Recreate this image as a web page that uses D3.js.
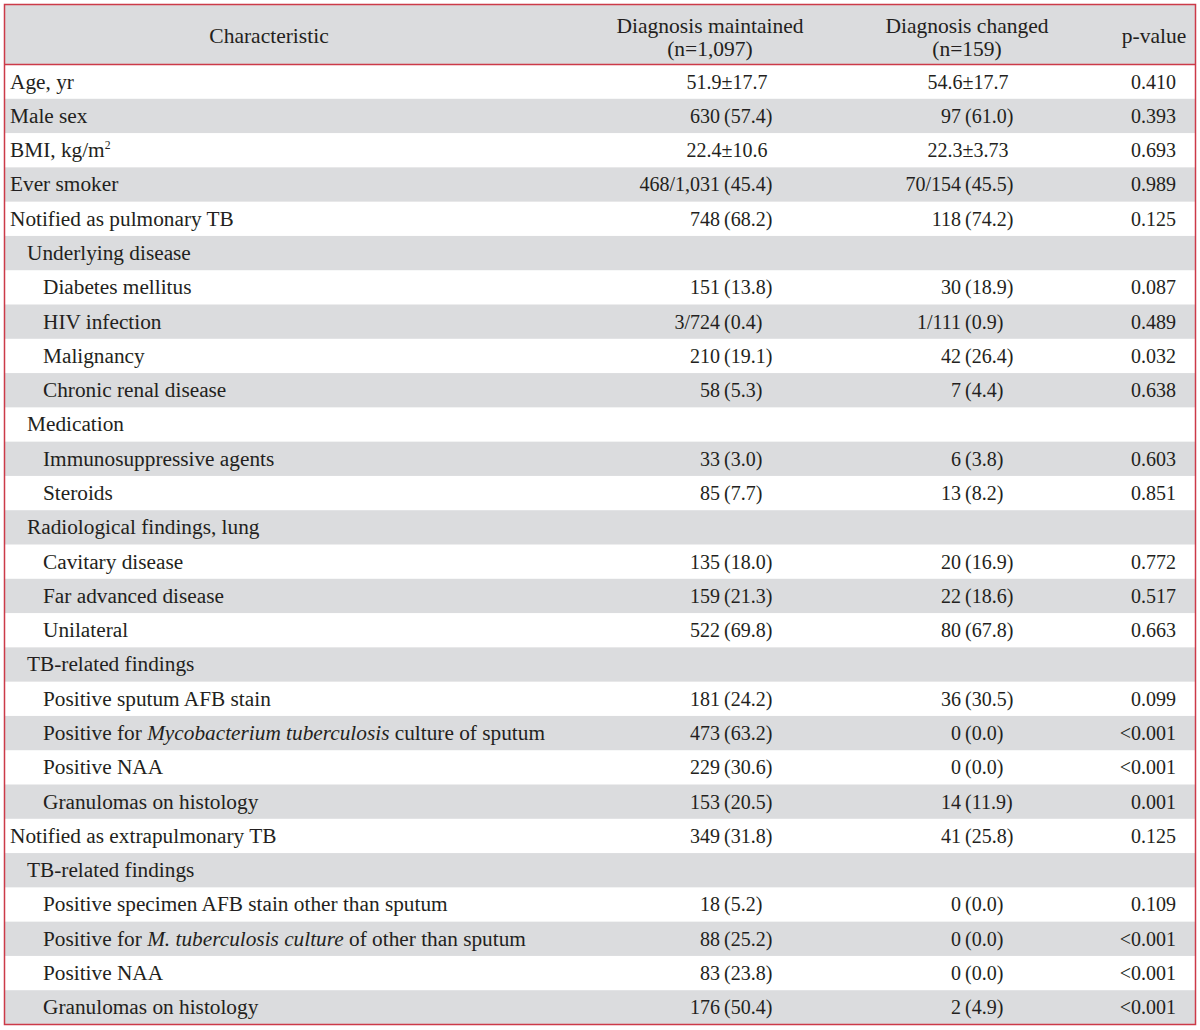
<!DOCTYPE html>
<html>
<head>
<meta charset="utf-8">
<script src="https://cdn.jsdelivr.net/npm/d3@7"></script>
<style>
  html, body { margin: 0; padding: 0; background: #ffffff; }
  svg { display: block; }
</style>
</head>
<body>
<svg id="chart" width="1200" height="1030"></svg>
<script>
// ---------------- data ----------------
const headers = ["Characteristic", "Diagnosis maintained|(n=1,097)", "Diagnosis changed|(n=159)", "p-value"];

// *text* marks italic parts, ^x marks superscript
const characteristics = [
  "Age, yr",
  "Male sex",
  "BMI, kg/m^2",
  "Ever smoker",
  "Notified as pulmonary TB",
  "Underlying disease",
  "Diabetes mellitus",
  "HIV infection",
  "Malignancy",
  "Chronic renal disease",
  "Medication",
  "Immunosuppressive agents",
  "Steroids",
  "Radiological findings, lung",
  "Cavitary disease",
  "Far advanced disease",
  "Unilateral",
  "TB-related findings",
  "Positive sputum AFB stain",
  "Positive for *Mycobacterium tuberculosis* culture of sputum",
  "Positive NAA",
  "Granulomas on histology",
  "Notified as extrapulmonary TB",
  "TB-related findings",
  "Positive specimen AFB stain other than sputum",
  "Positive for *M. tuberculosis culture* of other than sputum",
  "Positive NAA",
  "Granulomas on histology"
];

const levels = [0,0,0,0,0,1,2,2,2,2,1,2,2,1,2,2,2,1,2,2,2,2,0,1,2,2,2,2];

const maintained = [
  "51.9±17.7", "630 (57.4)", "22.4±10.6", "468/1,031 (45.4)", "748 (68.2)",
  "", "151 (13.8)", "3/724 (0.4)", "210 (19.1)", "58 (5.3)",
  "", "33 (3.0)", "85 (7.7)",
  "", "135 (18.0)", "159 (21.3)", "522 (69.8)",
  "", "181 (24.2)", "473 (63.2)", "229 (30.6)", "153 (20.5)",
  "349 (31.8)",
  "", "18 (5.2)", "88 (25.2)", "83 (23.8)", "176 (50.4)"
];

const changed = [
  "54.6±17.7", "97 (61.0)", "22.3±3.73", "70/154 (45.5)", "118 (74.2)",
  "", "30 (18.9)", "1/111 (0.9)", "42 (26.4)", "7 (4.4)",
  "", "6 (3.8)", "13 (8.2)",
  "", "20 (16.9)", "22 (18.6)", "80 (67.8)",
  "", "36 (30.5)", "0 (0.0)", "0 (0.0)", "14 (11.9)",
  "41 (25.8)",
  "", "0 (0.0)", "0 (0.0)", "0 (0.0)", "2 (4.9)"
];

const pValues = [
  "0.410", "0.393", "0.693", "0.989", "0.125",
  "", "0.087", "0.489", "0.032", "0.638",
  "", "0.603", "0.851",
  "", "0.772", "0.517", "0.663",
  "", "0.099", "<0.001", "<0.001", "0.001",
  "0.125",
  "", "0.109", "<0.001", "<0.001", "<0.001"
];

// ---------------- layout ----------------
const FONT = "'Liberation Serif', 'Times New Roman', serif";
const FS_NUM = 20;
const FS_LAB = 21.3;
const FS_HEAD = 21.5;
const frame = {x0: 4.5, y0: 4.5, x1: 1195.5, y1: 1024.5};
const headerBottom = 64.5;
const RED = "#cc3a48";
const GRAY = "#dbdcde";
const TEXT = "#231f20";

const svg = d3.select("#chart");

const rows = d3.range(characteristics.length);
const y = d3.scaleBand().domain(rows).range([headerBottom, frame.y1]).paddingInner(0).paddingOuter(0);
const indent = d3.scaleOrdinal().domain([0,1,2]).range([10, 27, 43]);

// column anchors
const colMaintParen = 724;   // x of "(" in maintained column
const colChangedParen = 965; // x of "(" in changed column
const colP = 1176;           // right edge of p-values
const headerCenters = [269, 710, 967, 1154];

// header background
svg.append("rect")
  .attr("x", frame.x0).attr("y", frame.y0)
  .attr("width", frame.x1 - frame.x0).attr("height", headerBottom - frame.y0)
  .attr("fill", GRAY);

// striped rows
svg.append("g").selectAll("rect")
  .data(rows.filter(i => i % 2 === 1))
  .join("rect")
  .attr("x", frame.x0).attr("y", d => y(d))
  .attr("width", frame.x1 - frame.x0).attr("height", y.bandwidth())
  .attr("fill", GRAY);

const textG = svg.append("g")
  .attr("font-family", FONT).attr("font-size", FS_NUM).attr("fill", TEXT);

// header text
headers.forEach((h, i) => {
  const lines = h.split("|");
  const t = textG.append("text").attr("text-anchor", "middle").attr("font-size", FS_HEAD);
  if (lines.length === 1) {
    t.attr("x", headerCenters[i]).attr("y", 43).text(lines[0]);
  } else {
    t.append("tspan").attr("x", headerCenters[i]).attr("y", 33).text(lines[0]);
    t.append("tspan").attr("x", headerCenters[i]).attr("y", 56).text(lines[1]);
  }
});

// label parser
function addRich(sel, str) {
  const re = /(\*[^*]+\*|\^\S)/g;
  let last = 0, m;
  while ((m = re.exec(str)) !== null) {
    if (m.index > last) sel.append("tspan").text(str.slice(last, m.index));
    if (m[0][0] === "*") {
      sel.append("tspan").attr("font-style", "italic").text(m[0].slice(1, -1));
    } else {
      sel.append("tspan").attr("font-size", FS_LAB * 0.55).attr("dy", -8).text(m[0].slice(1));
    }
    last = m.index + m[0].length;
  }
  if (last < str.length) sel.append("tspan").text(str.slice(last));
}

const baseOff = 24; // baseline offset within row

rows.forEach(i => {
  const by = y(i) + baseOff;
  const lab = textG.append("text").attr("x", indent(levels[i])).attr("y", by)
    .attr("font-size", FS_LAB);
  addRich(lab, characteristics[i]);
});

function valueCell(str, anchorX, by) {
  if (!str) return;
  const k = str.indexOf(" (");
  if (k >= 0) {
    textG.append("text").attr("x", anchorX - 4).attr("y", by)
      .attr("text-anchor", "end").text(str.slice(0, k));
    textG.append("text").attr("x", anchorX).attr("y", by)
      .attr("text-anchor", "start").text(str.slice(k + 1));
  } else {
    textG.append("text").attr("x", anchorX + 3).attr("y", by)
      .attr("text-anchor", "middle").text(str);
  }
}

rows.forEach(i => {
  const by = y(i) + baseOff;
  valueCell(maintained[i], colMaintParen, by);
  valueCell(changed[i], colChangedParen, by);
  if (pValues[i]) {
    textG.append("text").attr("x", colP).attr("y", by)
      .attr("text-anchor", "end").text(pValues[i]);
  }
});

// red rules
svg.append("line")
  .attr("x1", frame.x0).attr("x2", frame.x1)
  .attr("y1", headerBottom).attr("y2", headerBottom)
  .attr("stroke", RED).attr("stroke-width", 1.5);
svg.append("rect")
  .attr("x", frame.x0).attr("y", frame.y0)
  .attr("width", frame.x1 - frame.x0).attr("height", frame.y1 - frame.y0)
  .attr("fill", "none").attr("stroke", RED).attr("stroke-width", 1.5);
</script>
</body>
</html>
